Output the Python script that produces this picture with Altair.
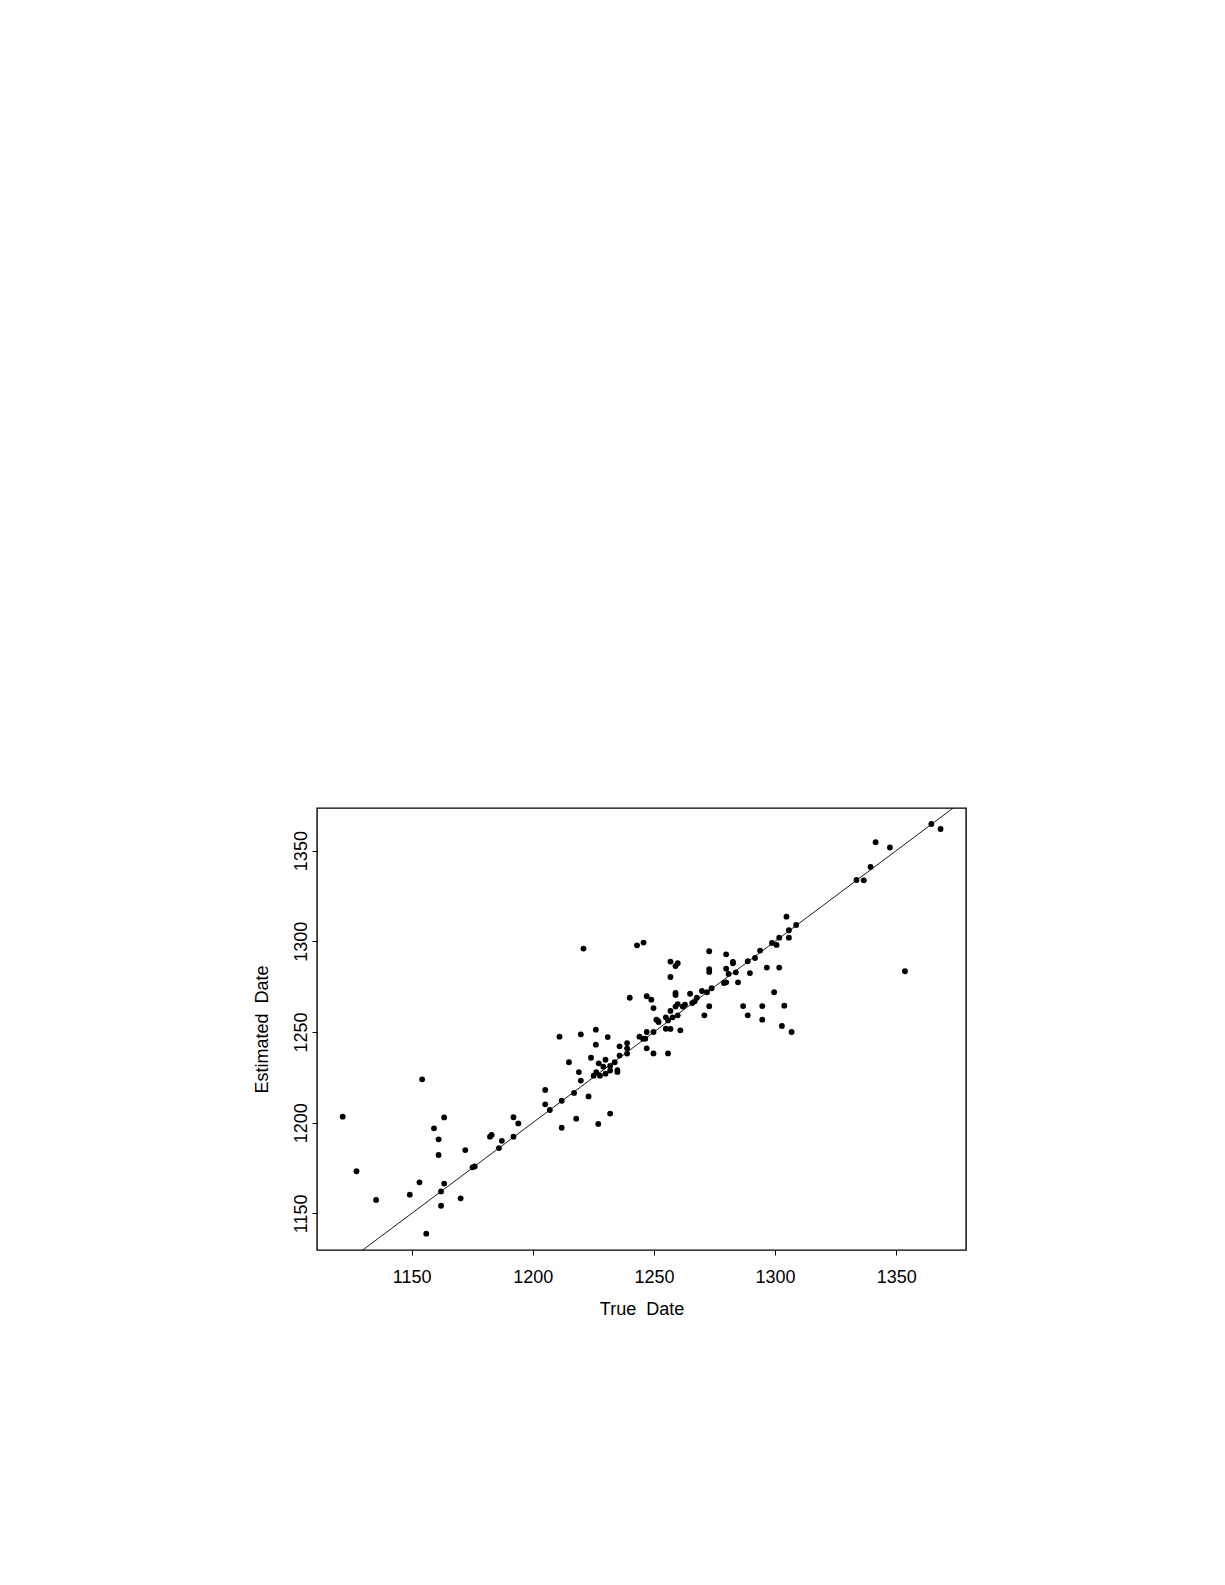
import altair as alt
import pandas as pd

# values (true date vs estimated date)
true_date = [
    1121.5, 1127.2, 1135.3, 1149.2, 1153.2, 1154.3, 1156.0, 1159.2, 1161.1, 1161.1,
    1162.1, 1162.1, 1163.4, 1163.4, 1170.2, 1172.1, 1175.1, 1176.0, 1182.3, 1183.0,
    1186.0, 1187.2, 1192.0, 1192.0, 1194.0, 1205.1, 1205.1, 1207.0, 1211.0, 1211.9,
    1211.9, 1214.9, 1217.0, 1217.9, 1219.0, 1219.8, 1219.8, 1220.9, 1223.0, 1224.0,
    1225.1, 1226.0, 1226.0, 1226.2, 1227.2, 1227.0, 1227.7, 1229.1, 1230.0, 1230.0,
    1230.9, 1231.9, 1231.9, 1231.9, 1233.8, 1234.9, 1234.9, 1235.8, 1235.8, 1238.9,
    1238.9, 1238.9, 1240.0, 1243.0, 1244.0, 1245.7, 1245.5, 1246.4, 1247.0, 1247.0,
    1247.0, 1248.9, 1249.8, 1249.8, 1249.8, 1251.0, 1251.5, 1251.9, 1254.9, 1254.9,
    1255.8, 1255.8, 1256.8, 1256.8, 1256.8, 1256.8, 1257.7, 1258.9, 1259.8, 1258.9,
    1258.9, 1258.9, 1259.8, 1259.8, 1260.9, 1261.9, 1262.8, 1264.9, 1265.8, 1266.8,
    1267.7, 1269.8, 1270.8, 1271.9, 1272.8, 1272.8, 1272.8, 1272.8, 1273.8, 1278.9,
    1279.8, 1279.8, 1279.8, 1280.8, 1282.6, 1282.6, 1283.8, 1284.7, 1286.8, 1288.7,
    1288.7, 1289.6, 1291.7, 1293.8, 1294.7, 1294.7, 1296.6, 1298.7, 1299.6, 1300.6,
    1301.7, 1301.7, 1302.8, 1303.8, 1304.7, 1305.7, 1305.7, 1306.8, 1308.7, 1333.6,
    1336.6, 1339.4, 1341.5, 1347.4, 1353.6, 1364.5, 1368.3,
]
est_date = [
    1203.3, 1173.2, 1157.4, 1160.3, 1167.1, 1223.9, 1138.8, 1196.9, 1190.8, 1182.2,
    1162.1, 1154.2, 1202.9, 1166.4, 1158.3, 1184.9, 1175.4, 1175.9, 1192.3, 1193.2,
    1186.0, 1190.0, 1203.0, 1192.3, 1199.6, 1218.0, 1210.1, 1207.0, 1247.4, 1212.1,
    1197.2, 1233.3, 1216.4, 1202.2, 1227.9, 1248.7, 1223.2, 1296.0, 1214.5, 1235.8,
    1225.9, 1251.3, 1243.0, 1227.8, 1232.7, 1199.3, 1225.9, 1230.9, 1234.7, 1227.0,
    1247.2, 1231.3, 1228.7, 1205.0, 1233.3, 1229.0, 1228.0, 1242.1, 1237.0, 1243.9,
    1241.0, 1238.1, 1268.9, 1297.8, 1247.4, 1299.3, 1246.3, 1246.3, 1269.7, 1250.0,
    1241.0, 1267.8, 1263.2, 1250.0, 1238.2, 1256.8, 1256.3, 1255.5, 1258.1, 1251.8,
    1256.4, 1238.2, 1288.8, 1280.3, 1261.6, 1251.7, 1258.1, 1286.4, 1287.9, 1271.5,
    1270.4, 1264.0, 1265.4, 1259.2, 1250.9, 1264.0, 1265.1, 1271.1, 1266.0, 1266.9,
    1268.9, 1272.6, 1259.2, 1271.9, 1294.5, 1284.7, 1283.1, 1264.2, 1274.1, 1277.0,
    1277.4, 1292.8, 1284.9, 1282.0, 1288.6, 1287.9, 1282.9, 1277.4, 1264.3, 1289.0,
    1259.2, 1282.5, 1290.8, 1294.9, 1264.3, 1256.8, 1285.5, 1299.1, 1271.9, 1298.0,
    1302.0, 1285.5, 1253.3, 1264.5, 1313.6, 1306.1, 1302.0, 1250.0, 1309.0, 1333.8,
    1333.6, 1341.0, 1354.6, 1351.7, 1283.5, 1364.7, 1361.9,
]

# reference line y = x
line_ends = [1100, 1400]

tick_values = [1150, 1200, 1250, 1300, 1350]
x_domain = [1110.9, 1378.8]
y_domain = [1129.8, 1373.5]

font = "Liberation Sans"

df = pd.DataFrame({"true": true_date, "est": est_date})
df_line = pd.DataFrame({"true": line_ends, "est": line_ends})

x_enc = alt.X(
    "true:Q",
    scale=alt.Scale(domain=x_domain, nice=False, zero=False),
    axis=alt.Axis(
        values=tick_values,
        format="d",
        title="True\u00a0 Date",
        grid=False,
        domain=False,
        tickSize=5,
        tickColor="black",
        labelPadding=13,
        labelFontSize=18,
        labelFont=font,
        labelColor="black",
        titleFont=font,
        titleFontSize=18,
        titleFontWeight="normal",
        titleColor="black",
        titleX=324.5,
        titleY=64,
        titleAlign="center",
        titleBaseline="alphabetic",
    ),
)

y_enc = alt.Y(
    "est:Q",
    scale=alt.Scale(domain=y_domain, nice=False, zero=False),
    axis=alt.Axis(
        values=tick_values,
        format="d",
        title="Estimated\u00a0 Date",
        grid=False,
        domain=False,
        tickSize=5,
        tickColor="black",
        labelAngle=270,
        labelAlign="center",
        labelBaseline="alphabetic",
        labelPadding=6,
        labelFontSize=18,
        labelFont=font,
        labelColor="black",
        titleFont=font,
        titleFontSize=18,
        titleFontWeight="normal",
        titleColor="black",
        titleAngle=270,
        titleX=-50,
        titleY=221,
        titleAlign="center",
        titleBaseline="alphabetic",
    ),
)

points = alt.Chart(df).mark_circle(size=34, color="black", opacity=1).encode(
    x=x_enc,
    y=y_enc,
)

diag = alt.Chart(df_line).mark_line(color="black", strokeWidth=0.9, clip=True).encode(
    x="true:Q",
    y="est:Q",
)

chart = (diag + points).properties(
    width=649,
    height=442,
    autosize=alt.AutoSizeParams(type="none"),
    padding={"left": 309, "top": 800, "right": 250, "bottom": 320},
    background="white",
).configure_view(
    stroke="black",
    strokeWidth=1.4,
)

chart.save("out.html", embed_options={"renderer": "svg", "actions": False})
